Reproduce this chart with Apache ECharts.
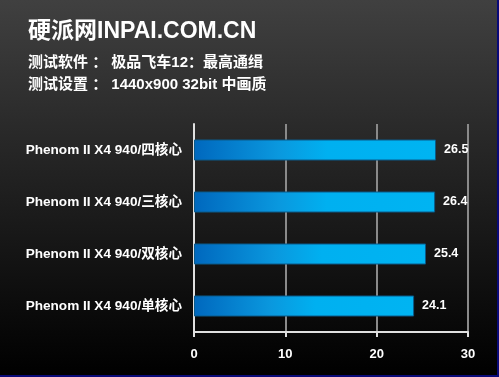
<!DOCTYPE html>
<html>
<head>
<meta charset="utf-8">
<script src="https://cdn.jsdelivr.net/npm/echarts@6/dist/echarts.min.js"></script>
<style>
html,body{margin:0;padding:0;background:#000;}
#c{width:497px;height:375px;border-right:2px solid #0a0a78;border-bottom:2px solid #0a0a78;background:linear-gradient(to bottom,#404040 0%,#262626 40%,#000 100%);}
</style>
</head>
<body>
<div id="c"></div>
<script>
var categories = ['Phenom II X4 940/单核心','Phenom II X4 940/双核心','Phenom II X4 940/三核心','Phenom II X4 940/四核心'];
var values = [24.1, 25.4, 26.4, 26.5];
var xTicks = [0, 10, 20, 30];
var titleText = '硬派网INPAI.COM.CN';
var sub1 = '测试软件 ： 极品飞车12：最高通缉';
var sub2 = '测试设置 ： 1440x900 32bit 中画质';

var font = '"Liberation Sans","Noto Sans CJK SC",sans-serif';
var chart = echarts.init(document.getElementById('c'), null, {renderer:'canvas'});
chart.setOption({
  backgroundColor: 'transparent',
  animation: false,
  graphic: [
    {type:'text', left:28, top:20, style:{text:titleText, fill:'#fff', font:'bold 23px ' + font}},
    {type:'text', left:28, top:55, style:{text:sub1, fill:'#fff', font:'bold 15px ' + font}},
    {type:'text', left:28, top:77, style:{text:sub2, fill:'#fff', font:'bold 15px ' + font}}
  ],
  grid: {left:194, right:29, top:124, bottom:43, containLabel:false},
  xAxis: {
    type:'value', min:xTicks[0], max:xTicks[xTicks.length-1], interval:10,
    axisLine:{show:true, lineStyle:{color:'#e0e0e0', width:2}},
    axisTick:{show:true, length:5, lineStyle:{color:'#e0e0e0', width:2}},
    axisLabel:{color:'#fff', fontWeight:'bold', fontSize:13, fontFamily:font, margin:16},
    splitLine:{show:true, lineStyle:{color:'#8a8a8a', width:2}}
  },
  yAxis: {
    type:'category', data:categories,
    axisLine:{show:true, lineStyle:{color:'#e0e0e0', width:2}},
    axisTick:{show:false},
    axisLabel:{color:'#fff', fontWeight:'bold', fontSize:13.6, fontFamily:font, margin:12}
  },
  series: [{
    type:'bar', data:values, barWidth:21,
    itemStyle:{
      color:new echarts.graphic.LinearGradient(0,0,1,0,[
        {offset:0, color:'#0068be'},
        {offset:0.35, color:'#0a98de'},
        {offset:0.55, color:'#00b0f0'},
        {offset:1, color:'#00b4f2'}
      ]),
      borderColor:'#0a5a8a', borderWidth:1
    },
    label:{show:true, position:'right', distance:8, color:'#fff', fontWeight:'bold', fontSize:12.5, fontFamily:font}
  }]
});
</script>
</body>
</html>
